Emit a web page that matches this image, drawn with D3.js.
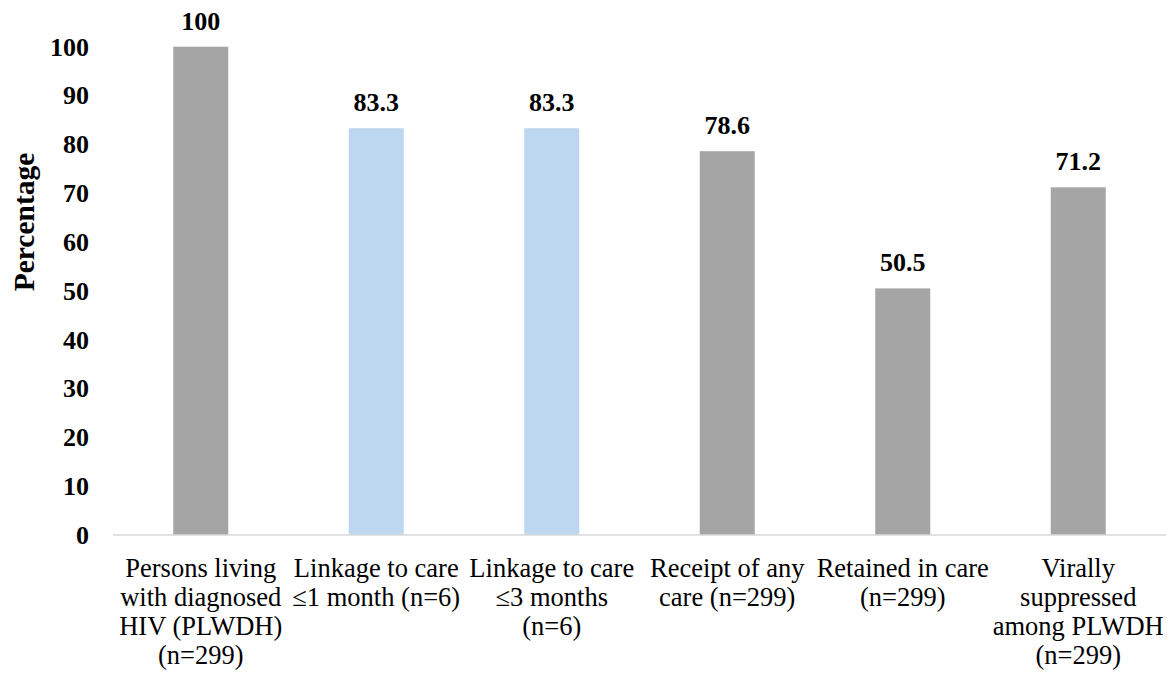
<!DOCTYPE html>
<html lang="en">
<head>
  <meta charset="UTF-8" />
  <title>HIV care continuum</title>
  <style>
    body { margin: 0; background: #fff; }
    svg text { font-family: 'Liberation Serif', 'Times New Roman', serif; fill: #000; }
    .tick-label { font-size: 26px; font-weight: bold; }
    .value-label { font-size: 26px; font-weight: bold; }
    .cat-label { font-size: 26.5px; }
    .y-title { font-size: 29.5px; font-weight: bold; }
  </style>
</head>
<body>
  <svg id="chart" width="1175" height="675"></svg>
  <script src="https://d3js.org/d3.v7.min.js"></script>
  <script>
    // categories, one entry per bar, already split into lines as in the figure
    const categories = [
      ["Persons living", "with diagnosed", "HIV (PLWDH)", "(n=299)"],
      ["Linkage to care", "\u22641 month (n=6)"],
      ["Linkage to care", "\u22643 months", "(n=6)"],
      ["Receipt of any", "care (n=299)"],
      ["Retained in care", "(n=299)"],
      ["Virally", "suppressed", "among PLWDH", "(n=299)"]
    ];
    const values = [100, 83.3, 83.3, 78.6, 50.5, 71.2];
    const valueLabels = ["100", "83.3", "83.3", "78.6", "50.5", "71.2"];
    const linkage = [false, true, true, false, false, false];
    const yTicks = [0, 10, 20, 30, 40, 50, 60, 70, 80, 90, 100];

    const GRAY = "#a5a5a5", BLUE = "#bdd7ee";
    const LEFT = 113, RIGHT = 1166, BASE = 535, TOP = 46.7;
    const LINE_H = 29;

    const svg = d3.select("#chart");

    const x = d3.scaleBand()
      .domain(d3.range(categories.length))
      .range([LEFT, RIGHT])
      .paddingInner(0.6866)
      .paddingOuter(0.3433);

    const y = d3.scaleLinear().domain([0, 100]).range([BASE, TOP]);

    // bars
    svg.selectAll(".bar")
      .data(values)
      .enter().append("rect")
      .attr("class", "bar")
      .attr("x", (d, i) => x(i))
      .attr("width", x.bandwidth())
      .attr("y", d => y(d))
      .attr("height", d => y(0) - y(d))
      .attr("fill", (d, i) => linkage[i] ? BLUE : GRAY);

    // baseline
    svg.append("line")
      .attr("x1", LEFT).attr("x2", RIGHT)
      .attr("y1", y(0)).attr("y2", y(0))
      .attr("stroke", "#d9d9d9").attr("stroke-width", 1.5);

    // value labels
    svg.selectAll(".value-label")
      .data(values)
      .enter().append("text")
      .attr("class", "value-label")
      .attr("x", (d, i) => x(i) + x.bandwidth() / 2)
      .attr("y", d => y(d) - 17)
      .attr("text-anchor", "middle")
      .text((d, i) => valueLabels[i]);

    // y tick labels
    svg.selectAll(".tick-label")
      .data(yTicks)
      .enter().append("text")
      .attr("class", "tick-label")
      .attr("x", 89)
      .attr("y", d => y(d))
      .attr("dy", "0.34em")
      .attr("text-anchor", "end")
      .text(d => d);

    // category labels
    const cat = svg.selectAll(".cat-label")
      .data(categories)
      .enter().append("text")
      .attr("class", "cat-label")
      .attr("text-anchor", "middle");
    cat.each(function (lines, i) {
      const t = d3.select(this);
      lines.forEach((line, j) => {
        t.append("tspan")
          .attr("x", x(i) + x.bandwidth() / 2)
          .attr("y", 577 + j * LINE_H)
          .text(line);
      });
    });

    // y axis title
    svg.append("text")
      .attr("class", "y-title")
      .attr("transform", "translate(34,222) rotate(-90)")
      .attr("text-anchor", "middle")
      .text("Percentage");
  </script>
</body>
</html>
